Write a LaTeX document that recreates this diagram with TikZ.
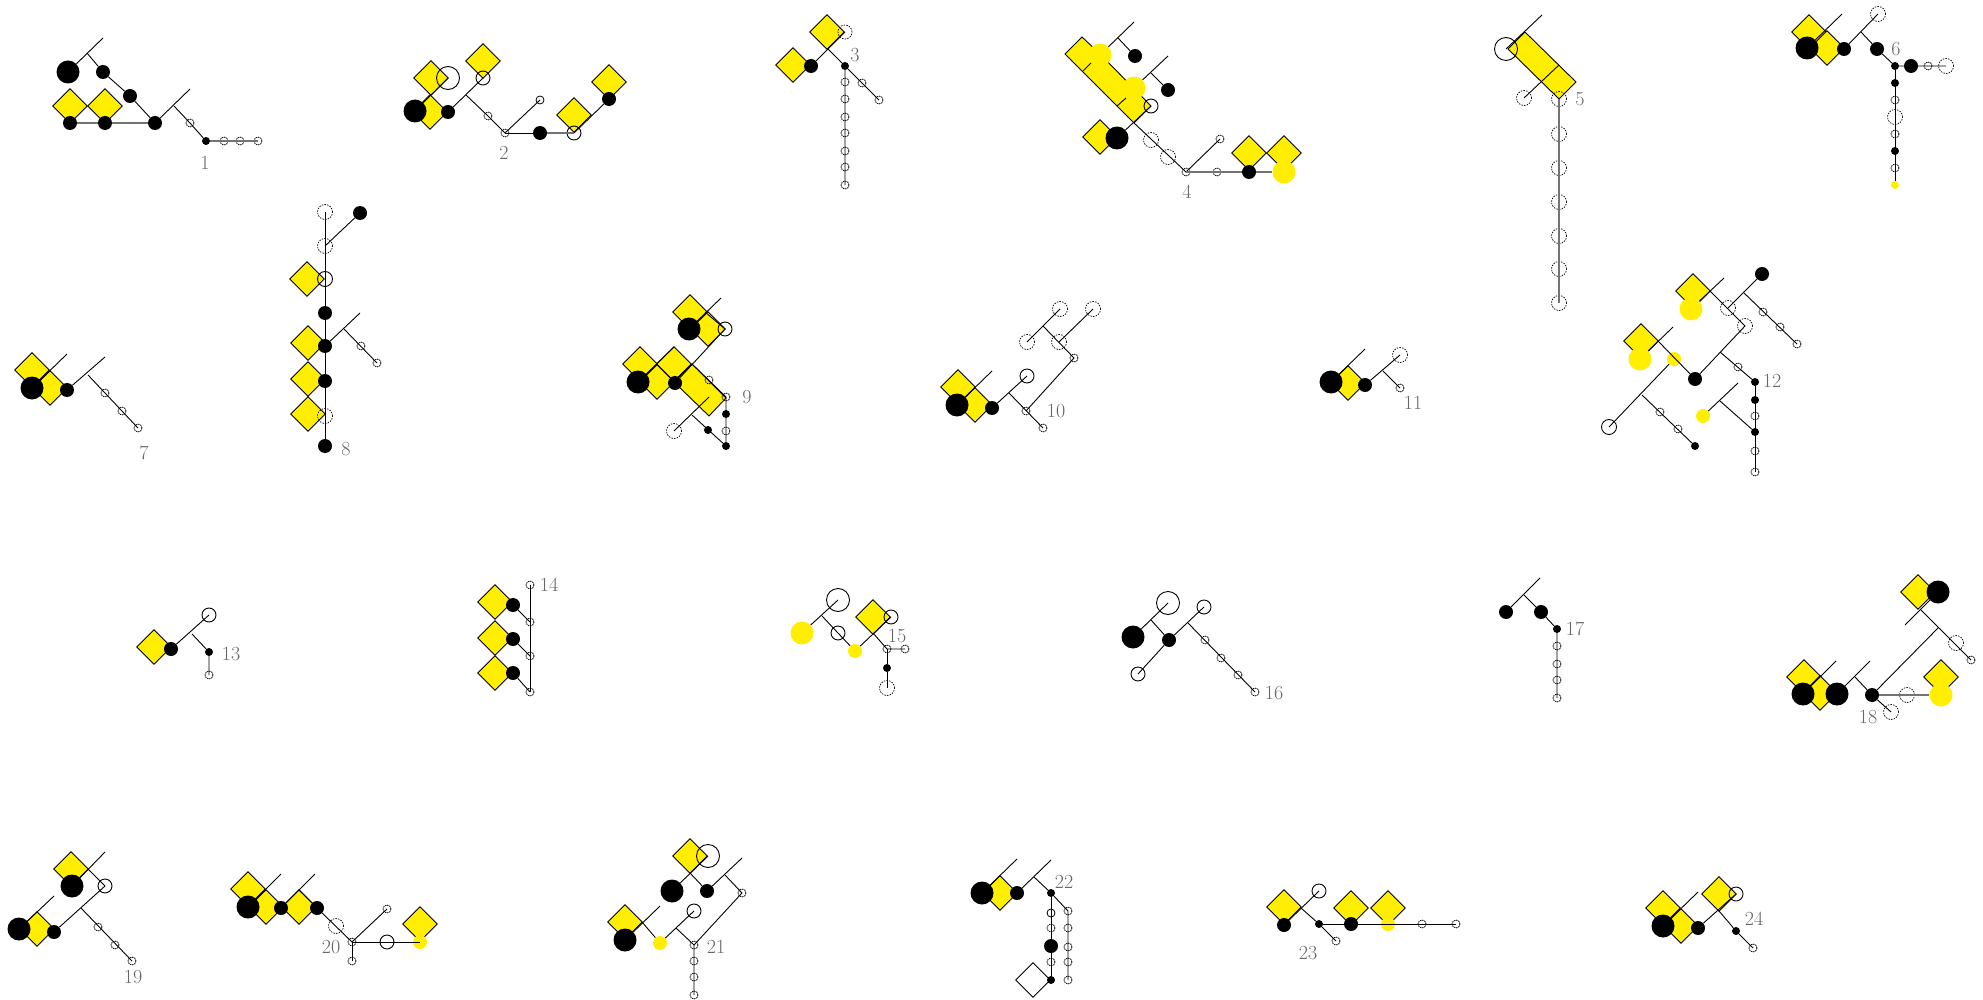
\documentclass[tikz,border=0pt]{standalone}
\usetikzlibrary{shapes.geometric}
\definecolor{glyyellow}{HTML}{FFEE00}
\tikzset{
  dmd/.style={diamond, draw, fill=glyyellow, inner sep=0pt, minimum width=35pt, minimum height=35pt, line width=.9pt},
  dmdopen/.style={diamond, draw, inner sep=0pt, minimum width=35pt, minimum height=35pt, line width=.9pt},
  blackL/.style={circle, fill=black, inner sep=0pt, minimum size=23pt},
  blackM/.style={circle, fill=black, inner sep=0pt, minimum size=14pt},
  blackS/.style={circle, fill=black, inner sep=0pt, minimum size=8pt},
  yellowL/.style={circle, fill=glyyellow, inner sep=0pt, minimum size=23pt},
  yellowM/.style={circle, fill=glyyellow, inner sep=0pt, minimum size=14pt},
  yellowS/.style={circle, fill=glyyellow, inner sep=0pt, minimum size=8pt},
  openL/.style={circle, draw, inner sep=0pt, minimum size=23pt, line width=.9pt},
  openM/.style={circle, draw, inner sep=0pt, minimum size=14pt, line width=.9pt},
  openS/.style={circle, draw, inner sep=0pt, minimum size=8pt, line width=.8pt},
  dashM/.style={circle, draw, inner sep=0pt, minimum size=15pt, line width=.7pt, dash pattern=on 1.5pt off 1.2pt},
  dashS/.style={circle, draw, inner sep=0pt, minimum size=8pt, line width=.8pt, dash pattern=on 1.5pt off .8pt},
  link/.style={line width=.9pt},
  faint/.style={draw=black!55, line width=1.5pt},
  tag/.style={text=black!60, inner sep=0pt, font=\fontsize{20}{20}\selectfont},
}
\begin{document}
\begin{tikzpicture}[x=1pt,y=-1pt]
  \useasboundingbox (0,0) rectangle (1983,1000);

  \node[dmd] (d1a) at (70,106) {};
  \node[dmd] (d1b) at (105,106) {};
  \node[blackL] (k1a) at (68,72) {};
  \node[blackM] (k1b) at (103,72) {};
  \node[blackM] (k1c) at (130,96) {};
  \node[blackM] (k1d) at (70,123) {};
  \node[blackM] (k1e) at (105,123) {};
  \node[blackM] (k1f) at (155,123) {};
  \node[blackS] (k1g) at (206,141) {};
  \node[dashS] (s1a) at (190,123) {};
  \node[dashS] (s1b) at (224,141) {};
  \node[dashS] (s1c) at (240,141) {};
  \node[dashS] (s1d) at (258,141) {};
  \coordinate (j1a) at (87,53);
  \coordinate (e1a) at (103,38);
  \coordinate (j1b) at (174,106);
  \coordinate (e1b) at (190,89);
  \draw[link] (k1a) -- (e1a);
  \draw[link] (j1a) -- (k1b) -- (k1c) -- (k1f);
  \draw[link] (k1f) -- (e1b);
  \draw[link] (j1b) -- (s1a.center) -- (k1g);
  \draw[faint] (k1d) -- (k1e) -- (k1f);
  \draw[faint] (k1g) -- (s1d.center);
  \node[tag] (t1) at (205,163) {1};

  \node[dmd] (d2a) at (431,78) {};
  \node[dmd] (d2b) at (483,61) {};
  \node[dmd] (d2c) at (430,112) {};
  \node[dmd] (d2d) at (574,115) {};
  \node[dmd] (d2e) at (609,82) {};
  \node[blackL] (k2a) at (415,111) {};
  \node[blackM] (k2b) at (448,112) {};
  \node[blackM] (k2c) at (540,133) {};
  \node[blackM] (k2d) at (609,99) {};
  \node[openL] (o2a) at (448,78) {};
  \node[openM] (o2b) at (483,78) {};
  \node[openM] (o2c) at (574,133) {};
  \node[openS] (o2d) at (540,100) {};
  \node[dashS] (s2a) at (488,116) {};
  \node[dashS] (s2b) at (505,133) {};
  \coordinate (j2a) at (466,95);
  \draw[link] (k2a) -- (o2a.center);
  \draw[link] (k2b) -- (o2b.center);
  \draw[link] (j2a) -- (s2a.center) -- (s2b.center) -- (o2d.center);
  \draw[link] (s2b.center) -- (k2c);
  \draw[faint] (k2c) -- (o2c.center);
  \draw[link] (o2c.center) -- (k2d);
  \node[tag] (t2) at (504,153) {2};

  \node[dmd] (d3a) at (827,32) {};
  \node[dmd] (d3b) at (793,65) {};
  \node[blackM] (k3a) at (811,66) {};
  \node[blackS] (k3b) at (845,66) {};
  \node[dashM, minimum size=14pt] (s3a) at (845,32) {};
  \node[dashS] (s3b) at (845,82) {};
  \node[dashS] (s3c) at (845,99) {};
  \node[dashS] (s3d) at (845,117) {};
  \node[dashS] (s3e) at (845,133) {};
  \node[dashS] (s3f) at (845,151) {};
  \node[dashS] (s3g) at (845,167) {};
  \node[dashS] (s3h) at (845,185) {};
  \node[dashS] (s3i) at (862,83) {};
  \node[dashS] (s3j) at (879,100) {};
  \coordinate (j3a) at (828,49);
  \draw[link] (k3a) -- (s3a.center);
  \draw[link] (j3a) -- (k3b) -- (s3h.center);
  \draw[link] (k3b) -- (s3j.center);
  \node[tag] (t3) at (855,55) {3};

  \draw[dmd] (1065,54) -- (1082,37) -- (1100,54) -- (1151,106) -- (1134,123) -- cycle;
  \node[dmd] (d4a) at (1100,137) {};
  \node[dmd] (d4b) at (1249,153) {};
  \node[dmd] (d4c) at (1284,153) {};
  \node[yellowL] (y4a) at (1100,55) {};
  \node[yellowL] (y4b) at (1134,88) {};
  \node[yellowL] (y4c) at (1284,172) {};
  \node[blackM] (k4a) at (1135,56) {};
  \node[blackM] (k4b) at (1168,90) {};
  \node[blackL] (k4c) at (1117,138) {};
  \node[blackM] (k4d) at (1249,172) {};
  \node[openM] (o4a) at (1151,106) {};
  \node[dashM] (s4a) at (1151,140) {};
  \node[dashM] (s4b) at (1168,157) {};
  \node[dashS] (s4c) at (1186,172) {};
  \node[dashS] (s4d) at (1220,139) {};
  \node[dashS] (s4e) at (1217,172) {};
  \coordinate (j4a) at (1118,38);
  \coordinate (e4a) at (1134,22);
  \coordinate (j4b) at (1151,73);
  \coordinate (e4b) at (1168,56);
  \coordinate (j4c) at (1134,123);
  \coordinate (e4c) at (1083,71);
  \coordinate (e4d) at (1091,63);
  \coordinate (e4e) at (1117,106);
  \coordinate (e4f) at (1126,98);
  \draw[link] (y4a) -- (e4a);
  \draw[link] (j4a) -- (k4a);
  \draw[link] (y4b) -- (e4b);
  \draw[link] (j4b) -- (k4b);
  \draw[link] (e4c) -- (e4d);
  \draw[link] (e4e) -- (e4f);
  \draw[link] (k4c) -- (o4a.center);
  \draw[link] (j4c) -- (s4c.center) -- (s4d.center);
  \draw[faint] (s4c.center) -- (k4d) -- (y4c);
  \node[tag] (t4) at (1187,192) {4};

  \draw[dmd] (1508,49) -- (1525,32) -- (1576,82) -- (1559,99) -- cycle;
  \node[openL] (o5a) at (1506,49) {};
  \node[dashM] (s5a) at (1524,98) {};
  \node[dashM] (s5b) at (1559,99) {};
  \node[dashM] (s5c) at (1559,134) {};
  \node[dashM] (s5d) at (1559,168) {};
  \node[dashM] (s5e) at (1559,202) {};
  \node[dashM] (s5f) at (1559,236) {};
  \node[dashM] (s5g) at (1559,269) {};
  \node[dashM] (s5h) at (1559,303) {};
  \coordinate (e5a) at (1542,15);
  \coordinate (e5b) at (1559,65);
  \draw[link] (o5a.center) -- (e5a);
  \draw[link] (s5a.center) -- (e5b);
  \draw[faint] (s5b.center) -- (s5h.center);
  \node[tag] (t5) at (1580,99) {5};

  \node[dmd] (d6a) at (1809,32) {};
  \node[dmd] (d6b) at (1827,48) {};
  \node[blackL] (k6a) at (1807,48) {};
  \node[blackM] (k6b) at (1844,49) {};
  \node[blackM] (k6c) at (1877,49) {};
  \node[blackS] (k6d) at (1895,66) {};
  \node[blackM] (k6e) at (1911,66) {};
  \node[blackS] (k6f) at (1895,83) {};
  \node[blackS] (k6g) at (1895,151) {};
  \node[yellowS] (y6a) at (1895,185) {};
  \node[dashM] (s6a) at (1878,14) {};
  \node[dashS] (s6b) at (1928,66) {};
  \node[dashM] (s6c) at (1946,66) {};
  \node[dashS] (s6d) at (1895,100) {};
  \node[dashM] (s6e) at (1895,117) {};
  \node[dashS] (s6f) at (1895,134) {};
  \node[dashS] (s6g) at (1895,168) {};
  \coordinate (e6a) at (1842,14);
  \coordinate (j6a) at (1861,32);
  \draw[link] (k6a) -- (e6a);
  \draw[link] (k6b) -- (s6a.center);
  \draw[link] (j6a) -- (k6c) -- (k6d) -- (s6c.center);
  \draw[link] (k6d) -- (y6a);
  \node[tag] (t6) at (1896,49) {6};

  \node[dmd] (d7a) at (32,370) {};
  \node[dmd] (d7b) at (50,388) {};
  \node[blackL] (k7a) at (32,388) {};
  \node[blackM] (k7b) at (67,390) {};
  \node[dashS] (s7a) at (105,393) {};
  \node[dashS] (s7b) at (122,411) {};
  \node[dashS] (s7c) at (138,428) {};
  \coordinate (e7a) at (67,354);
  \coordinate (e7b) at (105,357);
  \coordinate (j7a) at (88,375);
  \draw[link] (k7a) -- (e7a);
  \draw[link] (k7b) -- (e7b);
  \draw[link] (j7a) -- (s7c.center);
  \node[tag] (t7) at (144,453) {7};

  \node[dmd] (d8a) at (307,279) {};
  \node[dmd] (d8b) at (308,343) {};
  \node[dmd] (d8c) at (308,379) {};
  \node[dmd] (d8d) at (308,414) {};
  \node[blackM] (k8a) at (325,313) {};
  \node[blackM] (k8b) at (325,346) {};
  \node[blackM] (k8c) at (325,381) {};
  \node[blackM] (k8d) at (325,446) {};
  \node[blackM] (k8e) at (360,213) {};
  \node[dashM] (s8a) at (325,212) {};
  \node[dashM] (s8b) at (325,246) {};
  \node[openM, minimum size=15pt] (o8a) at (325,279) {};
  \node[dashM] (s8c) at (325,416) {};
  \node[dashS] (s8d) at (361,346) {};
  \node[dashS] (s8e) at (377,363) {};
  \coordinate (e8a) at (360,313);
  \coordinate (j8a) at (344,329);
  \draw[link] (s8a.center) -- (k8d);
  \draw[link] (s8b.center) -- (k8e);
  \draw[link] (k8b) -- (e8a);
  \draw[link] (j8a) -- (s8e.center);
  \node[tag] (t8) at (346,449) {8};

  \node[dmd] (d9a) at (690,312) {};
  \node[dmd] (d9b) at (708,329) {};
  \node[dmd] (d9c) at (640,364) {};
  \node[dmd] (d9d) at (657,382) {};
  \node[dmd] (d9e) at (674,364) {};
  \draw[dmd] (692,364) -- (726,398) -- (709,416) -- (674,382) -- cycle;
  \node[blackL] (k9a) at (689,329) {};
  \node[blackL] (k9b) at (638,382) {};
  \node[blackM] (k9c) at (675,383) {};
  \node[blackS] (k9d) at (726,414) {};
  \node[blackS] (k9e) at (726,446) {};
  \node[blackS] (k9f) at (708,430) {};
  \node[openM] (o9a) at (725,329) {};
  \node[dashS] (s9a) at (709,380) {};
  \node[dashS] (s9b) at (726,397) {};
  \node[dashS] (s9c) at (726,431) {};
  \node[dashM] (s9d) at (674,431) {};
  \coordinate (e9a) at (721,298);
  \coordinate (e9b) at (674,347);
  \coordinate (j9a) at (705,312);
  \coordinate (j9b) at (692,364);
  \coordinate (e9c) at (709,397);
  \coordinate (j9c) at (692,415);
  \draw[link] (k9a) -- (e9a);
  \draw[link] (k9b) -- (e9b);
  \draw[link] (j9a) -- (o9a.center) -- (k9c);
  \draw[link] (j9b) -- (s9b.center) -- (k9e);
  \draw[link] (s9d.center) -- (e9c);
  \draw[link] (j9c) -- (k9e);
  \node[tag] (t9) at (747,397) {9};

  \node[dmd] (d10a) at (958,387) {};
  \node[dmd] (d10b) at (975,405) {};
  \node[blackL] (k10a) at (957,405) {};
  \node[blackM] (k10b) at (992,408) {};
  \node[openM] (o10a) at (1027,376) {};
  \node[dashS] (s10a) at (1043,428) {};
  \node[dashS] (s10b) at (1026,411) {};
  \node[dashS] (s10c) at (1074,358) {};
  \node[dashM] (s10d) at (1059,342) {};
  \node[dashM] (s10e) at (1027,342) {};
  \node[dashM] (s10f) at (1060,309) {};
  \node[dashM] (s10g) at (1093,309) {};
  \coordinate (e10a) at (992,371);
  \coordinate (j10a) at (1009,393);
  \coordinate (j10b) at (1043,326);
  \draw[link] (k10a) -- (e10a);
  \draw[link] (k10b) -- (o10a.center);
  \draw[link] (j10a) -- (s10a.center);
  \draw[link] (s10b.center) -- (s10c.center) -- (j10b);
  \draw[link] (s10e.center) -- (s10f.center);
  \draw[link] (s10d.center) -- (s10g.center);
  \node[tag] (t10) at (1056,411) {10};

  \node[dmd] (d11a) at (1348,383) {};
  \node[blackL] (k11a) at (1331,382) {};
  \node[blackM] (k11b) at (1365,385) {};
  \node[dashM] (s11a) at (1400,355) {};
  \node[dashS] (s11b) at (1400,388) {};
  \coordinate (e11a) at (1365,349);
  \coordinate (j11a) at (1383,371);
  \draw[link] (k11a) -- (e11a);
  \draw[link] (k11b) -- (s11a.center);
  \draw[link] (j11a) -- (s11b.center);
  \node[tag] (t11) at (1413,403) {11};

  \node[dmd] (d12a) at (1693,291) {};
  \node[dmd] (d12b) at (1641,341) {};
  \node[yellowL] (y12a) at (1691,309) {};
  \node[yellowL] (y12b) at (1640,359) {};
  \node[yellowM] (y12c) at (1674,359) {};
  \node[yellowM] (y12d) at (1703,416) {};
  \node[blackM] (k12a) at (1762,274) {};
  \node[blackM] (k12b) at (1695,379) {};
  \node[blackS] (k12c) at (1755,382) {};
  \node[blackS] (k12d) at (1755,400) {};
  \node[blackS] (k12e) at (1755,432) {};
  \node[blackS] (k12f) at (1695,446) {};
  \node[dashM] (s12a) at (1728,308) {};
  \node[dashM] (s12b) at (1745,326) {};
  \node[dashS] (s12c) at (1763,312) {};
  \node[dashS] (s12d) at (1780,327) {};
  \node[dashS] (s12e) at (1797,344) {};
  \node[dashS] (s12f) at (1738,367) {};
  \node[dashS] (s12g) at (1660,412) {};
  \node[dashS] (s12h) at (1678,429) {};
  \node[dashS] (s12i) at (1755,416) {};
  \node[dashS] (s12j) at (1755,451) {};
  \node[dashS] (s12k) at (1755,472) {};
  \node[openM, minimum size=15pt] (o12a) at (1609,427) {};
  \coordinate (e12a) at (1724,278);
  \coordinate (j12a) at (1710,291);
  \coordinate (j12b) at (1744,293);
  \coordinate (j12c) at (1720,352);
  \coordinate (e12b) at (1673,327);
  \coordinate (j12d) at (1658,341);
  \coordinate (j12e) at (1642,395);
  \coordinate (e12c) at (1738,383);
  \coordinate (j12f) at (1720,401);
  \draw[link] (y12a) -- (e12a);
  \draw[link] (j12a) -- (s12b.center) -- (k12b);
  \draw[link] (s12a.center) -- (k12a);
  \draw[link] (j12b) -- (s12e.center);
  \draw[link] (j12c) -- (k12c);
  \draw[link] (y12b) -- (e12b);
  \draw[link] (j12d) -- (k12b);
  \draw[link] (y12c) -- (o12a.center);
  \draw[link] (j12e) -- (k12f);
  \draw[link] (y12d) -- (e12c);
  \draw[link] (j12f) -- (k12e);
  \draw[link] (k12c) -- (s12k.center);
  \node[tag] (t12) at (1772,381) {12};

  \node[dmd] (d13a) at (154,647) {};
  \node[blackM] (k13a) at (171,649) {};
  \node[blackS] (k13b) at (209,652) {};
  \node[openM] (o13a) at (209,615) {};
  \node[dashS] (s13a) at (209,675) {};
  \coordinate (j13a) at (192,634);
  \draw[link] (k13a) -- (o13a.center);
  \draw[link] (j13a) -- (k13b) -- (s13a.center);
  \node[tag] (t13) at (231,654) {13};

  \node[dmd] (d14a) at (495,602) {};
  \node[dmd] (d14b) at (495,638) {};
  \node[dmd] (d14c) at (495,673) {};
  \node[blackM] (k14a) at (513,605) {};
  \node[blackM] (k14b) at (513,639) {};
  \node[blackM] (k14c) at (513,673) {};
  \node[dashS] (s14a) at (530,585) {};
  \node[dashS] (s14b) at (530,622) {};
  \node[dashS] (s14c) at (530,656) {};
  \node[dashS] (s14d) at (530,692) {};
  \draw[link] (s14a.center) -- (s14d.center);
  \draw[link] (k14a) -- (s14b.center);
  \draw[link] (k14b) -- (s14c.center);
  \draw[link] (k14c) -- (s14d.center);
  \node[tag] (t14) at (549,585) {14};

  \node[dmd] (d15a) at (873,617) {};
  \node[yellowL] (y15a) at (802,633) {};
  \node[yellowM] (y15b) at (855,651) {};
  \node[blackS] (k15a) at (887,668) {};
  \node[openL] (o15a) at (838,600) {};
  \node[openM] (o15b) at (838,633) {};
  \node[openM] (o15c) at (891,617) {};
  \node[dashS] (s15a) at (887,649) {};
  \node[dashS] (s15b) at (905,649) {};
  \node[dashM] (s15c) at (887,688) {};
  \coordinate (j15a) at (822,616);
  \coordinate (j15b) at (873,633);
  \draw[link] (y15a) -- (o15a.center);
  \draw[link] (j15a) -- (o15b.center) -- (y15b);
  \draw[link] (y15b) -- (o15c.center);
  \draw[link] (j15b) -- (s15a.center) -- (s15b.center);
  \draw[link] (s15a.center) -- (k15a) -- (s15c.center);
  \node[tag] (t15) at (897,636) {15};

  \node[blackL] (k16a) at (1133,637) {};
  \node[blackM] (k16b) at (1169,640) {};
  \node[openL] (o16a) at (1168,603) {};
  \node[openM] (o16b) at (1204,607) {};
  \node[openM] (o16c) at (1138,674) {};
  \node[dashS] (s16a) at (1205,640) {};
  \node[dashS] (s16b) at (1221,658) {};
  \node[dashS] (s16c) at (1238,675) {};
  \node[dashS] (s16d) at (1255,692) {};
  \coordinate (j16a) at (1151,620);
  \coordinate (j16b) at (1188,623);
  \draw[link] (k16a) -- (o16a.center);
  \draw[link] (j16a) -- (k16b);
  \draw[link] (o16c.center) -- (k16b) -- (o16b.center);
  \draw[link] (j16b) -- (s16d.center);
  \node[tag] (t16) at (1274,693) {16};

  \node[blackM] (k17a) at (1506,612) {};
  \node[blackM] (k17b) at (1541,612) {};
  \node[blackS] (k17c) at (1557,629) {};
  \node[dashS] (s17a) at (1557,646) {};
  \node[dashS] (s17b) at (1557,664) {};
  \node[dashS] (s17c) at (1557,680) {};
  \node[dashS] (s17d) at (1557,698) {};
  \coordinate (e17a) at (1540,578);
  \coordinate (j17a) at (1524,595);
  \draw[link] (k17a) -- (e17a);
  \draw[link] (j17a) -- (k17b) -- (k17c) -- (s17d.center);
  \node[tag] (t17) at (1575,629) {17};

  \node[dmd] (d18a) at (1918,592) {};
  \node[dmd] (d18b) at (1804,677) {};
  \node[dmd] (d18c) at (1820,693) {};
  \node[dmd] (d18d) at (1941,677) {};
  \node[yellowL] (y18a) at (1941,695) {};
  \node[blackL] (k18a) at (1938,592) {};
  \node[blackL] (k18b) at (1803,694) {};
  \node[blackL] (k18c) at (1837,694) {};
  \node[blackM] (k18d) at (1872,695) {};
  \node[dashM] (s18a) at (1956,643) {};
  \node[dashS] (s18b) at (1971,660) {};
  \node[dashM] (s18c) at (1907,695) {};
  \node[dashM] (s18d) at (1891,712) {};
  \coordinate (e18a) at (1905,625);
  \coordinate (j18a) at (1921,610);
  \coordinate (j18b) at (1938,628);
  \coordinate (e18b) at (1836,661);
  \coordinate (e18c) at (1870,661);
  \coordinate (j18c) at (1855,677);
  \draw[link] (e18a) -- (k18a);
  \draw[link] (j18a) -- (s18b.center);
  \draw[link] (j18b) -- (k18d);
  \draw[link] (k18b) -- (e18b);
  \draw[link] (k18c) -- (e18c);
  \draw[link] (j18c) -- (k18d) -- (s18d.center);
  \draw[faint] (k18d) -- (y18a);
  \node[tag] (t18) at (1868,717) {18};

  \node[dmd] (d19a) at (71,869) {};
  \node[dmd] (d19b) at (37,929) {};
  \node[blackL] (k19a) at (72,886) {};
  \node[blackL] (k19b) at (19,929) {};
  \node[blackM] (k19c) at (54,932) {};
  \node[openM] (o19a) at (105,886) {};
  \node[dashS] (s19a) at (98,927) {};
  \node[dashS] (s19b) at (115,945) {};
  \node[dashS] (s19c) at (132,961) {};
  \coordinate (e19a) at (105,852);
  \coordinate (j19a) at (88,869);
  \coordinate (e19b) at (54,896);
  \coordinate (j19b) at (81,908);
  \draw[link] (k19a) -- (e19a);
  \draw[link] (j19a) -- (o19a.center) -- (k19c);
  \draw[link] (k19b) -- (e19b);
  \draw[link] (j19b) -- (s19c.center);
  \node[tag] (t19) at (133,977) {19};

  \node[dmd] (d20a) at (248,889) {};
  \node[dmd] (d20b) at (266,907) {};
  \node[dmd] (d20c) at (299,907) {};
  \node[dmd] (d20d) at (420,924) {};
  \node[yellowM] (y20a) at (420,942) {};
  \node[blackL] (k20a) at (248,907) {};
  \node[blackM] (k20b) at (281,908) {};
  \node[blackM] (k20c) at (317,908) {};
  \node[openM] (o20a) at (387,942) {};
  \node[dashM] (s20a) at (336,926) {};
  \node[dashS] (s20b) at (352,942) {};
  \node[dashS] (s20c) at (387,909) {};
  \node[dashS] (s20d) at (352,961) {};
  \coordinate (e20a) at (281,874);
  \coordinate (e20b) at (315,874);
  \coordinate (j20a) at (299,890);
  \draw[link] (k20a) -- (e20a);
  \draw[link] (k20b) -- (e20b);
  \draw[link] (j20a) -- (k20c) -- (s20b.center) -- (s20c.center);
  \draw[link] (s20b.center) -- (s20d.center);
  \draw[link] (s20b.center) -- (y20a.center);
  \node[tag] (t20) at (331,947) {20};

  \node[dmd] (d21a) at (690,856) {};
  \node[dmd] (d21b) at (625,922) {};
  \node[blackL] (k21a) at (672,891) {};
  \node[blackM] (k21b) at (707,891) {};
  \node[blackL] (k21c) at (625,940) {};
  \node[yellowM] (y21a) at (660,943) {};
  \node[openL] (o21a) at (708,856) {};
  \node[openM] (o21b) at (694,911) {};
  \node[dashS] (s21a) at (742,893) {};
  \node[dashS] (s21b) at (694,945) {};
  \node[dashS] (s21c) at (694,961) {};
  \node[dashS] (s21d) at (694,977) {};
  \node[dashS] (s21e) at (694,995) {};
  \coordinate (j21a) at (690,873);
  \coordinate (e21a) at (742,858);
  \coordinate (j21b) at (725,875);
  \coordinate (e21b) at (660,906);
  \coordinate (j21c) at (642,922);
  \coordinate (j21d) at (676,928);
  \draw[link] (k21a) -- (o21a.center);
  \draw[link] (j21a) -- (k21b) -- (e21a);
  \draw[link] (j21b) -- (s21a.center) -- (s21b.center) -- (s21e.center);
  \draw[link] (k21c) -- (e21b);
  \draw[link] (j21c) -- (y21a) -- (o21b.center);
  \draw[link] (j21d) -- (s21b.center);
  \node[tag] (t21) at (716,947) {21};

  \node[dmd] (d22a) at (1000,893) {};
  \node[dmdopen] (d22b) at (1033,980) {};
  \node[blackL] (k22a) at (982,893) {};
  \node[blackM] (k22b) at (1017,893) {};
  \node[blackS] (k22c) at (1051,893) {};
  \node[blackM] (k22d) at (1051,946) {};
  \node[blackS] (k22e) at (1051,980) {};
  \node[openS] (o22a) at (1051,913) {};
  \node[dashS] (s22a) at (1051,928) {};
  \node[dashS] (s22b) at (1051,962) {};
  \node[dashS] (s22c) at (1068,911) {};
  \node[dashS] (s22d) at (1068,928) {};
  \node[dashS] (s22e) at (1068,947) {};
  \node[dashS] (s22f) at (1068,962) {};
  \node[dashS] (s22g) at (1068,980) {};
  \coordinate (e22a) at (1017,859);
  \coordinate (e22b) at (1051,860);
  \coordinate (j22a) at (1034,877);
  \draw[link] (k22a) -- (e22a);
  \draw[link] (k22b) -- (e22b);
  \draw[link] (j22a) -- (k22c) -- (s22c.center) -- (s22g.center);
  \draw[link] (k22c) -- (k22e);
  \node[tag] (t22) at (1064,882) {22};

  \node[dmd] (d23a) at (1284,907) {};
  \node[dmd] (d23b) at (1351,908) {};
  \node[dmd] (d23c) at (1388,908) {};
  \node[blackM] (k23a) at (1284,925) {};
  \node[blackS] (k23b) at (1319,924) {};
  \node[blackM] (k23c) at (1351,924) {};
  \node[yellowM] (y23a) at (1388,924) {};
  \node[openM] (o23a) at (1319,891) {};
  \node[dashS] (s23a) at (1336,941) {};
  \node[dashS] (s23b) at (1422,924) {};
  \node[dashS] (s23c) at (1456,924) {};
  \coordinate (j23a) at (1301,908);
  \draw[link] (k23a) -- (o23a.center);
  \draw[link] (j23a) -- (k23b) -- (s23a.center);
  \draw[link] (k23b) -- (s23c.center);
  \node[tag] (t23) at (1308,953) {23};

  \node[dmd] (d24a) at (1663,908) {};
  \node[dmd] (d24b) at (1681,926) {};
  \node[dmd] (d24c) at (1719,894) {};
  \node[blackL] (k24a) at (1663,926) {};
  \node[blackM] (k24b) at (1698,928) {};
  \node[blackS] (k24c) at (1736,931) {};
  \node[openM] (o24a) at (1736,894) {};
  \node[dashS] (s24a) at (1753,948) {};
  \coordinate (e24a) at (1698,892);
  \coordinate (j24a) at (1719,911);
  \draw[link] (k24a) -- (e24a);
  \draw[link] (k24b) -- (o24a.center);
  \draw[link] (j24a) -- (k24c) -- (s24a.center);
  \node[tag] (t24) at (1754,919) {24};
\end{tikzpicture}
\end{document}
